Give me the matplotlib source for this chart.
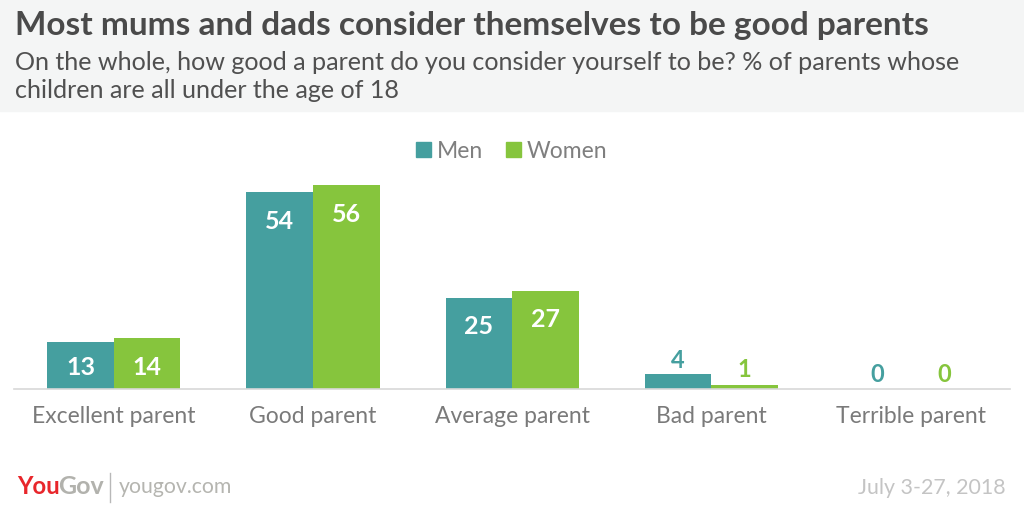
import matplotlib
matplotlib.use("Agg")
import matplotlib.pyplot as plt
from matplotlib.patches import Rectangle
import numpy as np

categories = ["Excellent parent", "Good parent", "Average parent", "Bad parent", "Terrible parent"]
men = [13, 54, 25, 4, 0]
women = [14, 56, 27, 1, 0]
series_names = ["Men", "Women"]
title = "Most mums and dads consider themselves to be good parents"
subtitle = "On the whole, how good a parent do you consider yourself to be? % of parents whose\nchildren are all under the age of 18"
date_text = "July 3-27, 2018"

MEN_C = "#459f9f"
WOMEN_C = "#86c53d"
FONT = ["Lato", "DejaVu Sans"]
plt.rcParams["font.family"] = FONT
W, H = 1024, 512
fig = plt.figure(figsize=(W/100, H/100), dpi=100)

def fx(x): return x / W
def fy(y): return 1 - y / H

fig.patches.append(Rectangle((0, fy(111)), 1, 111/H, transform=fig.transFigure, color="#f4f5f5", zorder=0))
fig.text(fx(15), fy(25), title, fontsize=24.0, fontweight="bold", color="#4a4a4a", va="center", ha="left")
fig.text(fx(15), fy(76.5), subtitle, fontsize=18.1, color="#505050", va="center", ha="left", linespacing=1.27)

ax = fig.add_axes([fx(14.2), fy(389), (1010-14)/W, (389-129)/H])
ax.set_xlim(-0.5, 4.5)
ax.set_ylim(0, 260/3.645)
x = np.arange(len(categories))
bw = 0.334
ax.bar(x - bw/2, men, bw, color=MEN_C, linewidth=0)
ax.bar(x + bw/2, women, bw, color=WOMEN_C, linewidth=0)
PT = 0.72  # points per pixel at dpi 100
for xs, vals, col in ((x - bw/2, men, MEN_C), (x + bw/2, women, WOMEN_C)):
    for xi, v in zip(xs, vals):
        if v >= 10:
            drop = 26 if v == 13 else 30 if v in (14, 56) else 29
            ax.annotate(str(v), (xi, v), xytext=(0, -drop * PT), textcoords="offset points",
                        ha="center", va="center", fontsize=18, fontweight="bold", color="white")
        else:
            rise = 16 if v == 1 else 14
            if v == 0:
                rise = 15
            ax.annotate(str(v), (xi, v), xytext=(0, rise * PT), textcoords="offset points",
                        ha="center", va="center", fontsize=17, fontweight="bold", color=col)
for s in ("top", "left", "right"):
    ax.spines[s].set_visible(False)
ax.spines["bottom"].set_color("#d8d8d8")
ax.spines["bottom"].set_linewidth(1.2)
ax.set_yticks([])
ax.set_xticks(x)
ax.set_xticklabels(categories, fontsize=16.5, color="#7a7a7a")
ax.tick_params(axis="x", length=0, pad=12.5)

# legend
for px, col, label in ((416, MEN_C, series_names[0]), (506, WOMEN_C, series_names[1])):
    fig.patches.append(Rectangle((fx(px), fy(157)), 15/W, 15/H, transform=fig.transFigure, color=col))
    fig.text(fx(px + 21), fy(152), label, fontsize=16.5, color="#7f7f7f", va="center", ha="left")

# footer
fig.text(fx(17), fy(487), "You", fontsize=17.2, fontweight="bold", color="#e8262b", va="center", ha="left")
fig.text(fx(58), fy(487), "Gov", fontsize=18, fontweight="bold", color="#b2b2ad", va="center", ha="left")
fig.add_artist(plt.Line2D([fx(110), fx(110)], [fy(473), fy(502)], color="#b8b8b8", lw=1))
fig.text(fx(119), fy(487), "yougov.com", fontsize=15.3, color="#b5b5b0", va="center", ha="left")
fig.text(fx(1006), fy(488), date_text, fontsize=15.4, color="#c4c4c4", va="center", ha="right")

fig.savefig("out.png", dpi=100)
